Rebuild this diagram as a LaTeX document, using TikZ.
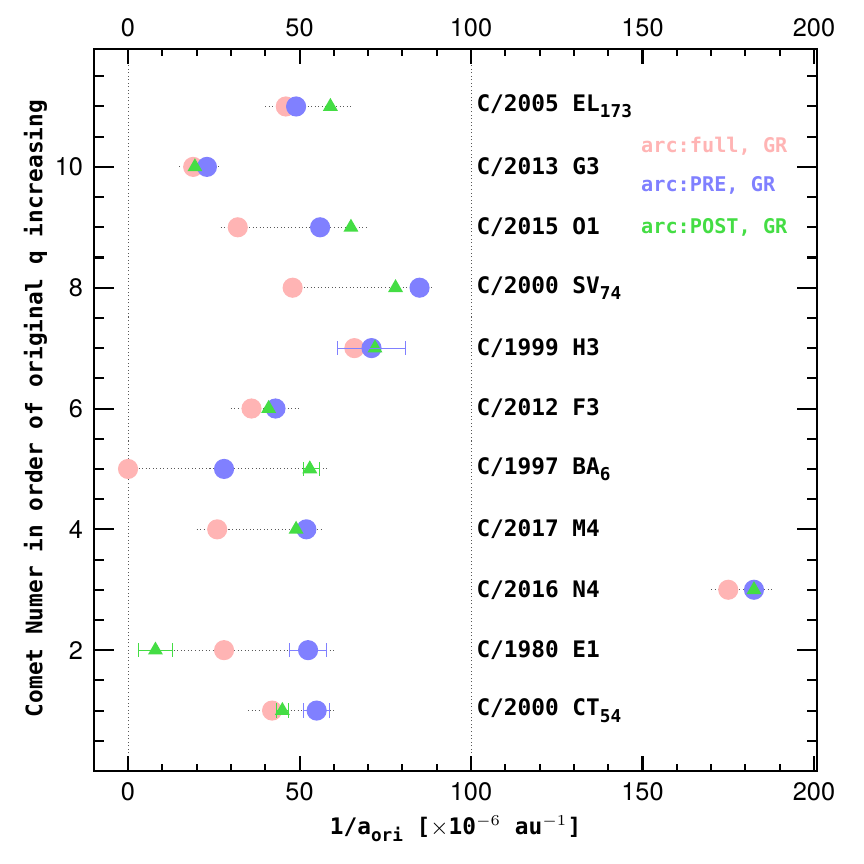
\documentclass[tikz,border=0pt]{standalone}
\usepackage{fontspec}
\setmainfont{TeX Gyre Heros}
\newfontfamily\labfont{DejaVu Sans Mono}
\usetikzlibrary{shapes.geometric}
\definecolor{cfull}{RGB}{255,180,180}
\definecolor{cpre}{RGB}{128,128,255}
\definecolor{cpost}{RGB}{68,221,68}
\newcommand{\lowsub}[1]{\raisebox{-0.5ex}{\scriptsize #1}}
\tikzset{
  full/.style={circle, fill=cfull, inner sep=0pt, minimum size=0.28cm},
  pre/.style={circle, fill=cpre, inner sep=0pt, minimum size=0.28cm},
  post/.style={regular polygon, regular polygon sides=3, fill=cpost, inner sep=0pt, minimum size=0.24cm},
  guide/.style={densely dotted, gray!70!black, thin},
  comet/.style={anchor=west, font=\labfont\bfseries\small},
  legtext/.style={anchor=west, font=\labfont\bfseries\footnotesize},
  errbar/.style={thin, |-|, shorten <=0pt}
}
\begin{document}
\begin{tikzpicture}
\useasboundingbox (0,0) rectangle (12,12);
\begin{scope}[shift={(1.778cm,1.292cm)}, x=0.04764cm, y=0.839cm]
% frame and guide lines
\draw[guide] (0,0) -- (0,11.95);
\draw[guide] (100,0) -- (100,11.95);
\draw[thick] (-10,0) rectangle (201,11.95);
\foreach \t in {-10,0,...,200} {
  \draw[thick] (\t,0) -- ++(0,0.12);
  \draw[thick] (\t,11.95) -- ++(0,-0.12);
}
\foreach \t in {0,50,...,200} {
  \draw[thick] (\t,0) -- ++(0,0.25);
  \draw[thick] (\t,11.95) -- ++(0,-0.25);
  \node[below] at (\t,-0.05) {\t};
  \node[above] at (\t,12) {\t};
}
\foreach \t in {0.5,1,...,11.5} {
  \draw[thick] (-10,\t) -- ++(3,0);
  \draw[thick] (201,\t) -- ++(-3,0);
}
\foreach \t in {2,4,...,10} {
  \draw[thick] (-10,\t) -- ++(6,0);
  \draw[thick] (201,\t) -- ++(-6,0);
  \node[left] at (-10.5,\t) {\t};
}
\node (xlab) at (95.5,-0.95) {\labfont\bfseries\small 1/a\lowsub{ori} [$\times$10$^{-6}$ au$^{-1}$]};
\node (ylab) [rotate=90] at (-27,6) {\labfont\bfseries\small Comet Numer in order of original q increasing};
% rows: y, pink, blue, green, dotted from, dotted to, label
\foreach \y/\pf/\pb/\pg/\lo/\hi/\nm in {
  11/46/49/59/40/65/{C/2005 EL\lowsub{173}},
  10/19/23/19.5/15/27/{C/2013 G3},
  9/32/56/65/27/70/{C/2015 O1},
  8/48/85/78/46/89/{C/2000 SV\lowsub{74}},
  7/66/71/72/61/81/{C/1999 H3},
  6/36/43/41/30/50/{C/2012 F3},
  5/0/28/53/0/58/{C/1997 BA\lowsub{6}},
  4/26/52/49/20/57/{C/2017 M4},
  3/175/182.5/182.5/170/188/{C/2016 N4},
  2/28/52.5/8/3/60/{C/1980 E1},
  1/42/55/45/35/60/{C/2000 CT\lowsub{54}}} {
  \draw[guide] (\lo,\y) -- (\hi,\y);
  \node[full] at (\pf,\y) {};
  \node[pre] at (\pb,\y) {};
  \node[post] at (\pg,\y) {};
  \node[comet] at (99,\y) {\nm};
}
% error bars
\draw[cpre, errbar] (61,7) -- (81,7);
\draw[cpost, errbar] (51,5) -- (56,5);
\draw[cpre, errbar] (47,2) -- (58,2);
\draw[cpost, errbar] (3,2) -- (13,2);
\draw[cpost, errbar] (43,1) -- (47,1);
\draw[cpre, errbar] (51,1) -- (59,1);
% legend
\node (legfull) [legtext, text=cfull] at (147,10.35) {arc:full, GR};
\node (legpre) [legtext, text=cpre] at (147,9.7) {arc:PRE, GR};
\node (legpost) [legtext, text=cpost] at (147,9.0) {arc:POST, GR};
\end{scope}
\end{tikzpicture}
\end{document}
